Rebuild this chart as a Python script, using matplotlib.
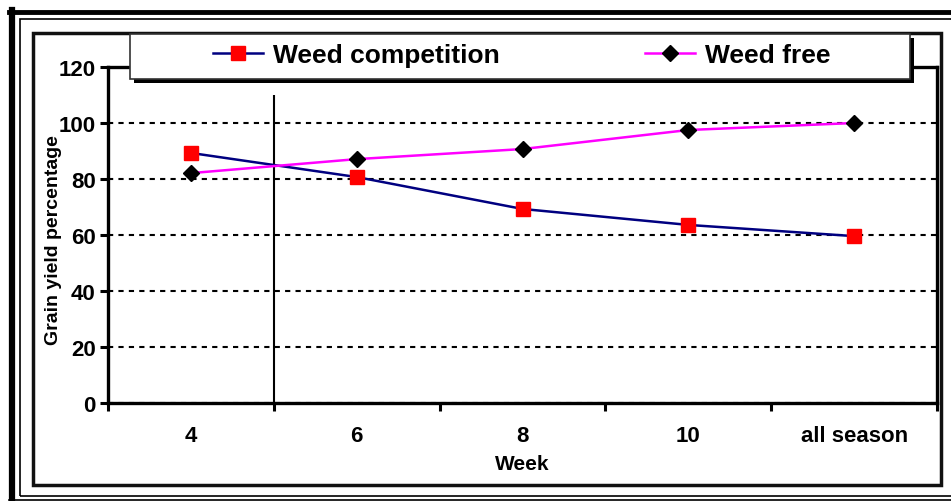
import matplotlib
matplotlib.use('Agg')
import matplotlib.pyplot as plt
from matplotlib.patches import Rectangle
from matplotlib.lines import Line2D

plt.rcParams['font.family'] = ['Liberation Sans', 'DejaVu Sans']
plt.rcParams['font.weight'] = 'bold'

# data
weeks = ['4', '6', '8', '10', 'all season']
weed_competition = [89.3, 80.7, 69.3, 63.6, 59.6]
weed_free = [82.1, 87.1, 90.7, 97.5, 100.0]
y_ticks = [0, 20, 40, 60, 80, 100, 120]
critical_x = 0.5
critical_top = 110

W, H = 951, 502
fig = plt.figure(figsize=(W / 100, H / 100), dpi=100)

def fx(px):
    return px / W

def fy(py):
    return 1 - py / H

# plot area
ax = fig.add_axes([fx(108), fy(404), fx(937) - fx(108), fy(68) - fy(404)])
x = list(range(len(weeks)))
ax.plot(x, weed_competition, color='#000080', lw=1.8, marker='s', markersize=10,
        markerfacecolor='red', markeredgecolor='red', zorder=4)
ax.plot(x, weed_free, color='#FF00FF', lw=1.8, marker='D', markersize=8,
        markerfacecolor='black', markeredgecolor='black', zorder=4)
ax.vlines(critical_x, 0, critical_top, color='black', lw=1.5, zorder=3)

ax.set_xlim(-0.5, len(weeks) - 0.5)
ax.set_ylim(0, 120)
ax.set_yticks(y_ticks)
ax.yaxis.grid(True, color='black', lw=1.5, linestyle=(0, (2.5, 2.5)))
ax.set_axisbelow(True)

# category boundaries as major ticks, labels on minor ticks
ax.set_xticks([i - 0.5 for i in range(len(weeks) + 1)])
ax.set_xticklabels([])
ax.set_xticks(x, minor=True)
ax.set_xticklabels(weeks, minor=True, fontsize=16, fontweight='bold')
ax.tick_params(axis='x', which='major', length=6, width=2.2, direction='out')
ax.tick_params(axis='x', which='minor', length=0, pad=16)
ax.tick_params(axis='y', length=6, width=2.2, pad=3, labelsize=16)
for lab in ax.get_yticklabels():
    lab.set_fontweight('bold')

for s in ax.spines.values():
    s.set_linewidth(2.4)

ax.set_xlabel('Week', fontsize=15, fontweight='bold')
ax.xaxis.set_label_coords(0.5, -0.152)
ax.set_ylabel('Grain yield percentage', fontsize=14, fontweight='bold')
ax.yaxis.set_label_coords(-0.055, 0.488)

# outer frame lines
fig.add_artist(Line2D([fx(9), fx(951)], [fy(13), fy(13)], color='black', lw=3.5))
fig.add_artist(Line2D([fx(12), fx(12)], [fy(11), fy(502)], color='black', lw=4.5))
fig.add_artist(Rectangle((fx(20), fy(497)), fx(960) - fx(20), fy(20) - fy(497),
                         fill=False, edgecolor='black', lw=1.2))
fig.add_artist(Line2D([fx(9), fx(951)], [fy(500.5), fy(500.5)], color='black', lw=1.2))

# inner chart box
fig.add_artist(Rectangle((fx(33), fy(486)), fx(941) - fx(33), fy(34) - fy(486),
                         fill=False, edgecolor='#111111', lw=2.5))

# legend box with shadow
fig.add_artist(Rectangle((fx(134), fy(84)), fx(914) - fx(134), fy(39) - fy(84),
                         facecolor='black', edgecolor='black', lw=0, zorder=5))
fig.add_artist(Rectangle((fx(130), fy(80)), fx(910) - fx(130), fy(35) - fy(80),
                         facecolor='white', edgecolor='#333333', lw=1.2, zorder=6))

handles = [
    Line2D([], [], color='#000080', lw=1.8, marker='s', markersize=10,
           markerfacecolor='red', markeredgecolor='red'),
    Line2D([], [], color='#FF00FF', lw=1.8, marker='D', markersize=8,
           markerfacecolor='black', markeredgecolor='black'),
]
leg = fig.legend(handles, ['Weed competition', 'Weed free'], loc='center',
                 bbox_to_anchor=(fx(522), fy(56)), ncol=2, frameon=False,
                 prop={'size': 19, 'weight': 'bold'}, handlelength=1.9,
                 handletextpad=0.38, columnspacing=5.5)
leg.set_zorder(7)

fig.savefig('out.png', dpi=100)
